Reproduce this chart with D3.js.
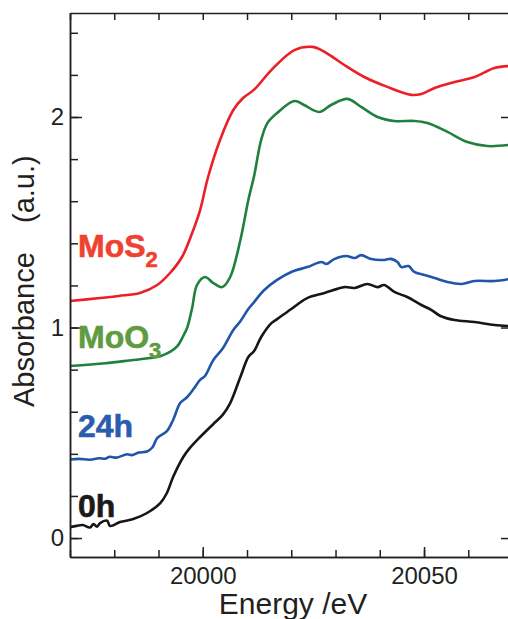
<!DOCTYPE html>
<html>
<head>
<meta charset="utf-8">
<script src="https://cdn.jsdelivr.net/npm/d3@7"></script>
<style>
  body { margin: 0; background: #fff; }
  svg { display: block; font-family: "Liberation Sans", Arial, Helvetica, sans-serif; }
</style>
</head>
<body>
<div id="chart"></div>
<script>
// Energy (eV) and absorbance values
var mos2E = [19970, 19976.8, 19981, 19985.8, 19989.7, 19992.6, 19995.3, 19997.6, 19999.4, 20001.2, 20003.9, 20006.9, 20009.1, 20011.6, 20015.5, 20020.7, 20024.8, 20026.8, 20029.7, 20032, 20036.5, 20041.7, 20047.1, 20049.4, 20052.4, 20056.9, 20061.4, 20065.9, 20069.1];
var mos2V = [1.126, 1.14, 1.15, 1.164, 1.202, 1.259, 1.335, 1.449, 1.558, 1.715, 1.891, 2.033, 2.09, 2.13, 2.223, 2.318, 2.333, 2.318, 2.28, 2.247, 2.19, 2.143, 2.105, 2.109, 2.138, 2.166, 2.19, 2.233, 2.242];

var moo3E = [19970, 19978, 19984.3, 19988.1, 19990.4, 19992.6, 19994.2, 19995.6, 19996.5, 19997.6, 19998.7, 20000.5, 20002.4, 20004.4, 20006.2, 20008.5, 20010.3, 20011.6, 20013.2, 20014.6, 20016.8, 20020.7, 20022.9, 20026.3, 20029, 20032.7, 20035.8, 20039.5, 20043.3, 20047.8, 20050.8, 20055.3, 20059.8, 20064.3, 20069.1];
var moo3V = [0.817, 0.83, 0.846, 0.855, 0.864, 0.884, 0.910, 0.96, 1.0, 1.093, 1.202, 1.24, 1.211, 1.192, 1.24, 1.416, 1.606, 1.72, 1.891, 1.971, 2.019, 2.076, 2.057, 2.024, 2.057, 2.086, 2.048, 2.0, 1.981, 1.981, 1.971, 1.929, 1.881, 1.862, 1.867];

var h24E = [19970, 19972, 19974.5, 19976.5, 19978, 19979, 19980.5, 19982.9, 19984, 19985.5, 19987.4, 19988.6, 19989.7, 19991.9, 19993.3, 19994.9, 19996.5, 19998, 19999.4, 20000.5, 20002.4, 20004.5, 20006.9, 20008.5, 20010.3, 20011.6, 20013.9, 20016.8, 20020, 20023.6, 20026.8, 20028, 20029.7, 20032.4, 20034.3, 20035.8, 20038.1, 20041, 20042.5, 20044, 20044.9, 20046.5, 20047.8, 20050, 20052.4, 20055.3, 20058.5, 20061.4, 20065.9, 20069.1];
var h24V = [0.373, 0.376, 0.372, 0.379, 0.377, 0.386, 0.382, 0.398, 0.394, 0.406, 0.411, 0.43, 0.475, 0.508, 0.561, 0.641, 0.670, 0.71, 0.751, 0.770, 0.846, 0.90, 0.988, 1.03, 1.088, 1.121, 1.178, 1.226, 1.264, 1.287, 1.311, 1.302, 1.325, 1.34, 1.33, 1.344, 1.325, 1.321, 1.326, 1.311, 1.287, 1.292, 1.264, 1.25, 1.235, 1.216, 1.207, 1.221, 1.221, 1.23];

var h0E = [19970, 19971.5, 19972.9, 19974.5, 19975.3, 19976.1, 19976.8, 19978.4, 19979, 19979.7, 19981.3, 19984.3, 19987.4, 19990.4, 19991.9, 19993.3, 19995.6, 19997.1, 19999.4, 20002.4, 20004.5, 20006.2, 20008.5, 20010.3, 20011.6, 20013.2, 20015.5, 20016.8, 20020, 20023.6, 20027.5, 20032, 20034.3, 20037.2, 20039.5, 20041, 20043.3, 20046.2, 20049.4, 20051.7, 20053.7, 20056.9, 20061.4, 20065.9, 20069.1];
var h0V = [0.052, 0.058, 0.062, 0.05, 0.066, 0.054, 0.071, 0.082, 0.058, 0.06, 0.076, 0.09, 0.119, 0.166, 0.214, 0.29, 0.385, 0.428, 0.48, 0.542, 0.585, 0.641, 0.765, 0.86, 0.888, 0.955, 1.021, 1.04, 1.088, 1.14, 1.164, 1.192, 1.188, 1.207, 1.192, 1.202, 1.169, 1.145, 1.107, 1.083, 1.055, 1.036, 1.026, 1.012, 1.007];

var xMinor = [19970, 19980, 19990, 20000, 20010, 20020, 20030, 20040, 20050, 20060];
var xMajor = [20000, 20050];
var yMinor = [0, 0.2, 0.4, 0.6, 0.8, 1, 1.2, 1.4, 1.6, 1.8, 2, 2.2, 2.4];
var yMajor = [0, 1, 2];

var seriesNames = ["MoS", "MoO", "24h", "0h"];
var seriesSubs = ["2", "3", "", ""];

window.onload = function() {
    var width = 508, height = 619;
    var left = 70, right = 509, top = 13, bottom = 557;
    var ink = "#231f20";

    var svg = d3.select("#chart").append("svg")
        .attr("width", width)
        .attr("height", height);

    var x = d3.scaleLinear().domain([19970, 20069.2]).range([left, right]);
    var y = d3.scaleLinear().domain([-0.09, 2.494]).range([bottom, top]);

    svg.append("defs").append("clipPath").attr("id", "plot")
        .append("rect").attr("x", left).attr("y", top)
        .attr("width", right - left).attr("height", bottom - top);

    // the four spectra
    var series = [
        { e: mos2E, v: mos2V, color: "#ec1f27" },
        { e: moo3E, v: moo3V, color: "#1f8040" },
        { e: h24E, v: h24V, color: "#2155aa" },
        { e: h0E, v: h0V, color: "#161616" }
    ];

    var line = d3.line()
        .x(function(d) { return x(d[0]); })
        .y(function(d) { return y(d[1]); })
        .curve(d3.curveCatmullRom.alpha(0.5));

    var g = svg.append("g").attr("clip-path", "url(#plot)");
    series.forEach(function(s) {
        var pts = s.e.map(function(e, i) { return [e, s.v[i]]; });
        g.append("path")
            .datum(pts)
            .attr("fill", "none")
            .attr("stroke", s.color)
            .attr("stroke-width", 2.6)
            .attr("stroke-linejoin", "round")
            .attr("d", line);
    });

    // axes: ticks point inward on every side
    function styleAxis(sel) {
        sel.selectAll("path, line").attr("stroke", ink).attr("stroke-width", 1.5);
        sel.selectAll("text").attr("fill", ink).attr("font-size", 24)
            .attr("font-family", "'Liberation Sans', Arial, sans-serif");
    }

    svg.append("g").attr("transform", "translate(0," + bottom + ")")
        .call(d3.axisBottom(x).tickValues(xMinor).tickSize(-7).tickSizeOuter(0).tickFormat(""))
        .call(styleAxis);
    svg.append("g").attr("transform", "translate(0," + bottom + ")")
        .call(d3.axisBottom(x).tickValues(xMajor).tickSize(-10).tickSizeOuter(0).tickPadding(10).tickFormat(d3.format("d")))
        .call(styleAxis);
    svg.append("g").attr("transform", "translate(0," + top + ")")
        .call(d3.axisTop(x).tickValues(xMinor).tickSize(-7).tickSizeOuter(0).tickFormat(""))
        .call(styleAxis);

    svg.append("g").attr("transform", "translate(" + left + ",0)")
        .call(d3.axisLeft(y).tickValues(yMinor).tickSize(-8).tickSizeOuter(0).tickFormat(""))
        .call(styleAxis);
    svg.append("g").attr("transform", "translate(" + left + ",0)")
        .call(d3.axisLeft(y).tickValues(yMajor).tickSize(-12).tickSizeOuter(0).tickPadding(6).tickFormat(d3.format("d")))
        .call(styleAxis);
    svg.append("g").attr("transform", "translate(" + right + ",0)")
        .call(d3.axisRight(y).tickValues(yMajor).tickSize(-8).tickSizeOuter(0).tickFormat(""))
        .call(styleAxis);

    // axis titles
    svg.append("text")
        .attr("x", 293).attr("y", 614)
        .attr("text-anchor", "middle")
        .attr("font-size", 30)
        .attr("fill", ink)
        .text("Energy /eV");

    var yt = svg.append("g").attr("transform", "translate(34,0) rotate(-90)");
    yt.append("text").attr("x", -407).attr("y", 0)
        .attr("font-size", 29).attr("fill", ink).text("Absorbance");
    yt.append("text").attr("x", -223).attr("y", 0)
        .attr("font-size", 29).attr("fill", ink).text("(a.u.)");

    // series labels
    var labelColors = ["#ef4130", "#5f9b3f", "#2a5cae", "#1a1a1a"];
    var labelY = [257, 348, 437, 517];
    seriesNames.forEach(function(name, i) {
        var t = svg.append("text")
            .attr("x", 78).attr("y", labelY[i])
            .attr("font-size", 32)
            .attr("font-weight", "bold")
            .attr("fill", labelColors[i])
            .attr("stroke", labelColors[i])
            .attr("stroke-width", 0.6)
            .text(name);
        if (seriesSubs[i]) {
            t.append("tspan")
                .attr("dy", 10)
                .attr("font-size", 22)
                .text(seriesSubs[i]);
        }
    });
};
</script>
</body>
</html>
